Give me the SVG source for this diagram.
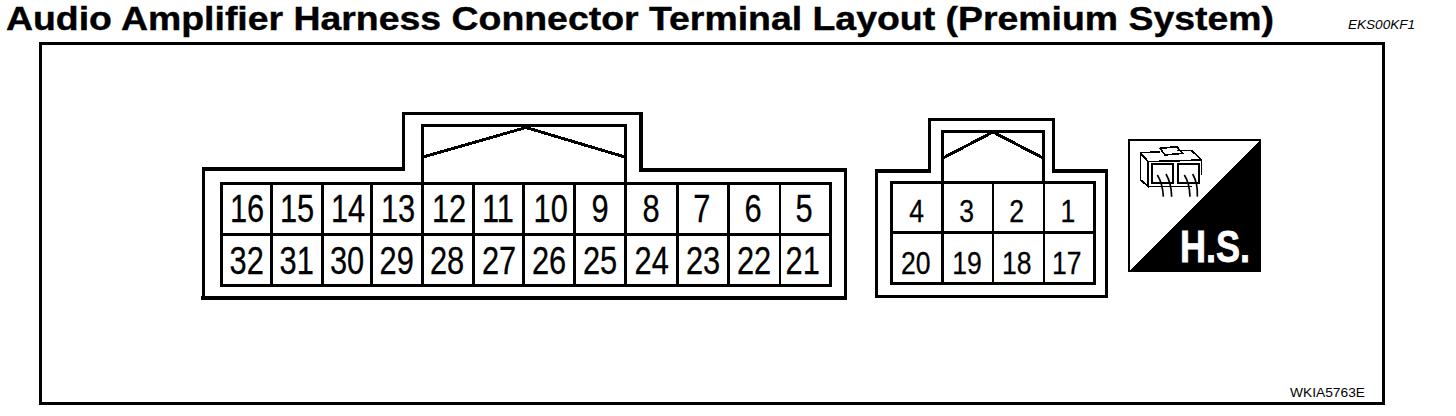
<svg xmlns="http://www.w3.org/2000/svg" width="1456" height="416" viewBox="0 0 1456 416">
<style>
text{font-family:"Liberation Sans",Arial,sans-serif;fill:#000}
path,rect{shape-rendering:crispEdges}
.o{fill:none;stroke:#000;stroke-width:3.4}
.t{fill:none;stroke:#000;stroke-width:3}
.g{fill:none;stroke:#000;stroke-width:2.6}
.n{font-size:39px;text-anchor:middle;stroke:#000;stroke-width:.3}
.m{font-size:32px;text-anchor:middle;stroke:#000;stroke-width:.3}
.i{fill:none;stroke:#000;stroke-width:5}
.w{fill:none;stroke:#000;stroke-width:5;shape-rendering:auto}
</style>
<rect width="1456" height="416" fill="#fff"/>
<text id="title" x="6" y="30.300" font-size="33.500" font-weight="700" textLength="1268" lengthAdjust="spacingAndGlyphs" stroke="#000" stroke-width=".4">Audio Amplifier Harness Connector Terminal Layout (Premium System)</text>
<text id="code-top" x="1348" y="29" font-size="12" font-style="italic" textLength="67" lengthAdjust="spacingAndGlyphs">EKS00KF1</text>
<rect id="frame" x="40.500" y="43.500" width="1343" height="360" fill="none" stroke="#000" stroke-width="3.600"/>
<text id="code-bottom" x="1290" y="397" font-size="13" textLength="75" lengthAdjust="spacingAndGlyphs">WKIA5763E</text>

<g id="connector-large">
<path class="o" d="M201 298H845.500V170H641V113.500H403.500V169H203.500V298"/>
<path class="t" d="M422.500 183V125.500H625.500V183"/>
<path class="t" d="M423 157L526 127.500L625 157"/>
<rect class="t" x="221.700" y="183.500" width="608.300" height="102"/>
<path class="g" d="M221.700 234.500H830M271.700 183.500V285.500M322.300 183.500V285.500M371.700 183.500V285.500M422.300 183.500V285.500M473.300 183.500V285.500M523.300 183.500V285.500M574.300 183.500V285.500M625.700 183.500V285.500M677.700 183.500V285.500M728.300 183.500V285.500M780 183.500V285.500"/>
<g>
<text class="n" transform="translate(247 222) scale(.79 1)">16</text>
<text class="n" transform="translate(297 222) scale(.79 1)">15</text>
<text class="n" transform="translate(348 222) scale(.79 1)">14</text>
<text class="n" transform="translate(398 222) scale(.79 1)">13</text>
<text class="n" transform="translate(449 222) scale(.79 1)">12</text>
<text class="n" transform="translate(498 222) scale(.79 1)">11</text>
<text class="n" transform="translate(550.700 222) scale(.79 1)">10</text>
<text class="n" transform="translate(600 222) scale(.79 1)">9</text>
<text class="n" transform="translate(651 222) scale(.79 1)">8</text>
<text class="n" transform="translate(701.700 222) scale(.79 1)">7</text>
<text class="n" transform="translate(753 222) scale(.79 1)">6</text>
<text class="n" transform="translate(804 222) scale(.79 1)">5</text>
<text class="n" transform="translate(246.700 273.500) scale(.79 1)">32</text>
<text class="n" transform="translate(296.700 273.500) scale(.79 1)">31</text>
<text class="n" transform="translate(347 273.500) scale(.79 1)">30</text>
<text class="n" transform="translate(396.700 273.500) scale(.79 1)">29</text>
<text class="n" transform="translate(447 273.500) scale(.79 1)">28</text>
<text class="n" transform="translate(499 273.500) scale(.79 1)">27</text>
<text class="n" transform="translate(549 273.500) scale(.79 1)">26</text>
<text class="n" transform="translate(600 273.500) scale(.79 1)">25</text>
<text class="n" transform="translate(651.700 273.500) scale(.79 1)">24</text>
<text class="n" transform="translate(703 273.500) scale(.79 1)">23</text>
<text class="n" transform="translate(754 273.500) scale(.79 1)">22</text>
<text class="n" transform="translate(802.700 273.500) scale(.79 1)">21</text>
</g>
</g>

<g id="connector-small">
<path class="o" d="M876.700 171V296.700H1106.700V171H1053.500V119.500H929.500V171Z"/>
<path class="t" d="M942.500 182V131H1043.500V182"/>
<path class="t" d="M943 158L993 132L1043 158"/>
<rect class="t" x="891.700" y="182" width="202.300" height="101"/>
<path class="g" d="M891.700 232.500H1094M942.300 182V283M993 182V283M1044 182V283"/>
<g>
<text class="m" transform="translate(916.700 222) scale(.83 1)">4</text>
<text class="m" transform="translate(966.700 222) scale(.83 1)">3</text>
<text class="m" transform="translate(1016.700 222) scale(.83 1)">2</text>
<text class="m" transform="translate(1068 222) scale(.83 1)">1</text>
<text class="m" transform="translate(915.700 273.500) scale(.83 1)">20</text>
<text class="m" transform="translate(967 273.500) scale(.83 1)">19</text>
<text class="m" transform="translate(1016.700 273.500) scale(.83 1)">18</text>
<text class="m" transform="translate(1066.700 273.500) scale(.83 1)">17</text>
</g>
</g>

<g id="hs-icon">
<rect x="1129" y="140" width="131" height="131" fill="#fff" stroke="#000" stroke-width="1.800"/>
<path d="M1260 140V271H1129Z" fill="#000"/>
<g transform="translate(1120 130) scale(.33333)">
<path class="i" d="M60 68L120 66M170 62L215 62L245 90V135M85 95L245 90M60 68L85 95V170L62 150V68M85 170H215"/>
<path class="i" d="M120 55L170 50L188 70L135 75Z"/>
<path class="i" style="stroke-width:7" d="M97 103H160V160H97ZM175 103H238V160H175Z"/>
<path class="w" d="M112 135Q128 160 130 200M138 132Q154 160 155 200M193 135Q209 160 210 200M218 132Q234 160 232 200"/>
</g>
<text font-size="44" font-weight="700" transform="translate(1180 262) scale(.82 1)" style="fill:#fff;stroke:#fff;stroke-width:.8">H.S.</text>
</g>
</svg>
